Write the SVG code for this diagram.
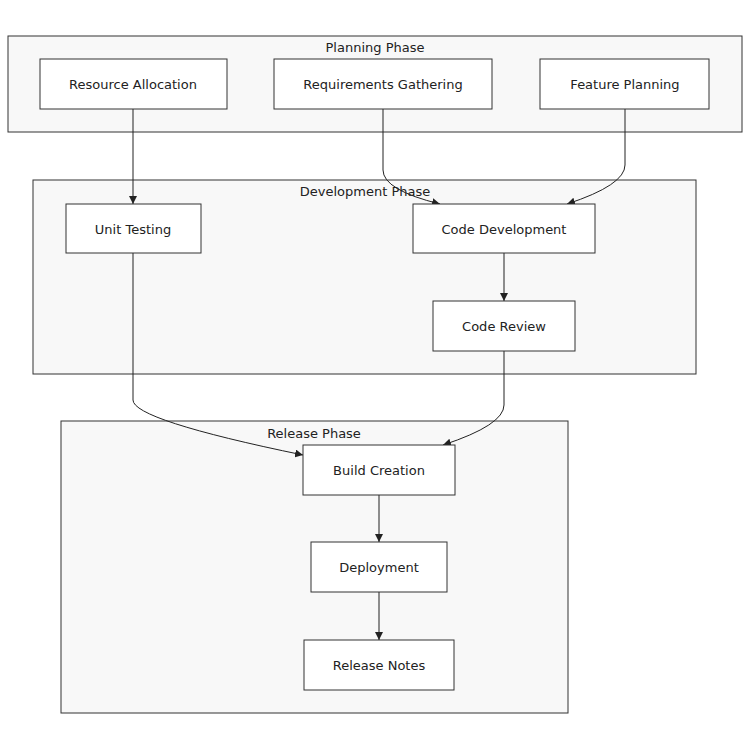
<svg xmlns="http://www.w3.org/2000/svg" width="750" height="750" viewBox="0 0 750 750">
<style>
.cl{fill:#f8f8f8;stroke:#333;stroke-width:1}
.n{fill:#fff;stroke:#333;stroke-width:1}
text{font-family:"DejaVu Sans",sans-serif;font-size:13px;fill:#222;text-anchor:middle;dominant-baseline:central}
.e{fill:none;stroke:#222;stroke-width:1}
</style>
<defs><marker id="a" viewBox="0 0 10 10" refX="10" refY="5" markerWidth="8" markerHeight="8" orient="auto"><path d="M0,0L10,5L0,10z" fill="#222"/></marker></defs>
<rect width="750" height="750" fill="#fff"/>
<g id="planning"><rect class="cl" x="8" y="36" width="734" height="96"/><text x="375" y="47">Planning Phase</text></g>
<g id="development"><rect class="cl" x="33" y="180" width="663" height="194"/><text x="365" y="191">Development Phase</text></g>
<g id="release"><rect class="cl" x="61" y="421" width="507" height="292"/><text x="314" y="433">Release Phase</text></g>
<g id="edges">
<path class="e" marker-end="url(#a)" d="M133,109V204"/>
<path class="e" marker-end="url(#a)" d="M383,109V170Q383,190 440,204"/>
<path class="e" marker-end="url(#a)" d="M625,109V165Q625,185 567,204"/>
<path class="e" marker-end="url(#a)" d="M504,253V301"/>
<path class="e" marker-end="url(#a)" d="M133,253V400Q133,420 303,455"/>
<path class="e" marker-end="url(#a)" d="M504,351V405Q504,425 443,445"/>
<path class="e" marker-end="url(#a)" d="M379,495V542"/>
<path class="e" marker-end="url(#a)" d="M379,592V640"/>
</g>
<g id="n1"><rect class="n" x="40" y="59" width="187" height="50"/><text x="133" y="84">Resource Allocation</text></g>
<g id="n2"><rect class="n" x="274" y="59" width="218" height="50"/><text x="383" y="84">Requirements Gathering</text></g>
<g id="n3"><rect class="n" x="540" y="59" width="169" height="50"/><text x="625" y="84">Feature Planning</text></g>
<g id="n4"><rect class="n" x="66" y="204" width="135" height="49"/><text x="133" y="229">Unit Testing</text></g>
<g id="n5"><rect class="n" x="413" y="204" width="182" height="49"/><text x="504" y="229">Code Development</text></g>
<g id="n6"><rect class="n" x="433" y="301" width="142" height="50"/><text x="504" y="326">Code Review</text></g>
<g id="n7"><rect class="n" x="303" y="445" width="152" height="50"/><text x="379" y="470">Build Creation</text></g>
<g id="n8"><rect class="n" x="311" y="542" width="136" height="50"/><text x="379" y="567">Deployment</text></g>
<g id="n9"><rect class="n" x="304" y="640" width="150" height="50"/><text x="379" y="665">Release Notes</text></g>
</svg>
